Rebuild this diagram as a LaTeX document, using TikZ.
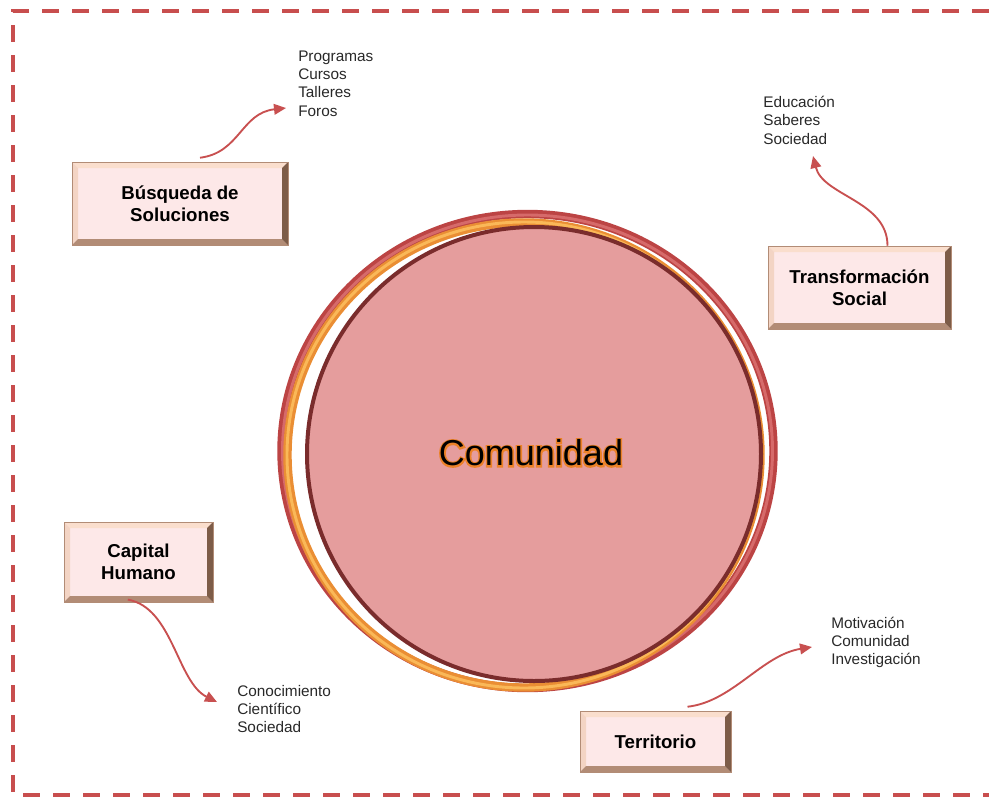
\documentclass[tikz,border=0pt]{standalone}
\usepackage{fontspec}
\setmainfont{Liberation Sans}
\newfontfamily\glowfont{Liberation Sans}[FakeBold=9]
\usetikzlibrary{arrows.meta}
\definecolor{framered}{RGB}{200,78,78}
\definecolor{ringred}{RGB}{188,68,68}
\definecolor{ringredlight}{RGB}{214,106,106}
\definecolor{ringorange}{RGB}{234,142,52}
\definecolor{ringorangelight}{RGB}{250,184,88}
\definecolor{diskpink}{RGB}{229,157,157}
\definecolor{diskedge}{RGB}{122,44,44}
\definecolor{boxpink}{RGB}{253,232,232}
\definecolor{bevtop}{RGB}{250,222,205}
\definecolor{bevleft}{RGB}{243,212,196}
\definecolor{bevbottom}{RGB}{178,140,118}
\definecolor{bevright}{RGB}{125,92,72}
\definecolor{arrowred}{RGB}{200,80,80}
\definecolor{listgray}{RGB}{40,40,40}
\definecolor{glow}{RGB}{236,130,40}
\tikzset{
 bevelbox/.style={fill=boxpink, draw=bevbottom, line width=0.4pt, inner sep=0pt,
  align=center, font=\bfseries\fontsize{14}{16.5}\selectfont,
  path picture={
   \coordinate (bnw) at (path picture bounding box.north west);
   \coordinate (bne) at (path picture bounding box.north east);
   \coordinate (bsw) at (path picture bounding box.south west);
   \coordinate (bse) at (path picture bounding box.south east);
   \fill[bevtop] (bnw) -- (bne) -- ([shift={(-4.5pt,-4.5pt)}]bne) -- ([shift={(4.5pt,-4.5pt)}]bnw) -- cycle;
   \fill[bevleft] (bnw) -- (bsw) -- ([shift={(4.5pt,4.5pt)}]bsw) -- ([shift={(4.5pt,-4.5pt)}]bnw) -- cycle;
   \fill[bevbottom] (bsw) -- (bse) -- ([shift={(-4.5pt,4.5pt)}]bse) -- ([shift={(4.5pt,4.5pt)}]bsw) -- cycle;
   \fill[bevright] (bne) -- (bse) -- ([shift={(-4.5pt,4.5pt)}]bse) -- ([shift={(-4.5pt,-4.5pt)}]bne) -- cycle;
  }},
 itemlist/.style={anchor=base west, align=left, inner sep=0pt, text=listgray,
  font=\fontsize{11.5}{13.6}\selectfont},
 flow/.style={draw=arrowred, line width=1.4pt, -{Triangle[length=9pt,width=8pt]}}
}

\begin{document}
\begin{tikzpicture}[x=0.75pt, y=-0.75pt]
 \useasboundingbox (0,0) rectangle (989,797);
 % dashed frame, right side runs off the page
 \draw[framered, line width=2.3pt, dash pattern=on 12.75pt off 9.75pt]
  (989,11) -- (13,11) -- (13,795) -- (989,795);

 % rings and disk
 \draw[ringred, line width=6.3pt] (527.5,451) ellipse [x radius=246, y radius=237];
 \draw[ringredlight, line width=2.2pt] (527.5,451) ellipse [x radius=245, y radius=236];
 \draw[ringorange, line width=6.3pt] (524,455) ellipse [x radius=236.5, y radius=232.5];
 \draw[ringorangelight, line width=2.2pt] (524,455) ellipse [x radius=237, y radius=233];
 \draw[fill=diskpink, draw=diskedge, line width=3pt] (534,454) circle [radius=227];
 \node[text=glow] (comglow) at (531,453) {\glowfont\fontsize{27}{30}\selectfont Comunidad};
 \node (com) at (531,453) {\fontsize{27}{30}\selectfont Comunidad};

 % boxes
 \node[bevelbox, minimum width=162pt, minimum height=62.25pt] (busq) at (180,203.5) {Búsqueda de\\Soluciones};
 \node[bevelbox, minimum width=137.25pt, minimum height=62.25pt] (trans) at (859.5,287.5) {Transformación\\Social};
 \node[bevelbox, minimum width=111.75pt, minimum height=60pt] (cap) at (138.5,562) {Capital\\Humano};
 \node[bevelbox, minimum width=113.25pt, minimum height=45.75pt] (terr) at (655.5,741.5) {Territorio};

 % lists (base = last line)
 \node[itemlist] (progs) at (298,116) {Programas\\Cursos\\Talleres\\Foros};
 \node[itemlist] (edu) at (763,144) {Educación\\Saberes\\Sociedad};
 \node[itemlist] (conoc) at (237,732.5) {Conocimiento\\Científico\\Sociedad};
 \node[itemlist] (motiv) at (831,664.5) {Motivación\\Comunidad\\Investigación};

 % arrow tips
 \coordinate (t1) at (286,108);
 \coordinate (t2) at (813,156);
 \coordinate (t3) at (217,702);
 \coordinate (t4) at (812,647);
 \draw[flow] ([xshift=15pt,yshift=3pt]busq.north) .. controls +(40,-5) and +(-45,5) .. (t1);
 \draw[flow] ([xshift=21pt]trans.north) .. controls +(0,-45) and +(10,40) .. (t2);
 \draw[flow] ([xshift=-8pt,yshift=2pt]cap.south) .. controls +(45,8) and +(-40,-20) .. (t3);
 \draw[flow] ([xshift=24pt,yshift=3pt]terr.north) .. controls +(45,-5) and +(-50,8) .. (t4);
\end{tikzpicture}
\end{document}
